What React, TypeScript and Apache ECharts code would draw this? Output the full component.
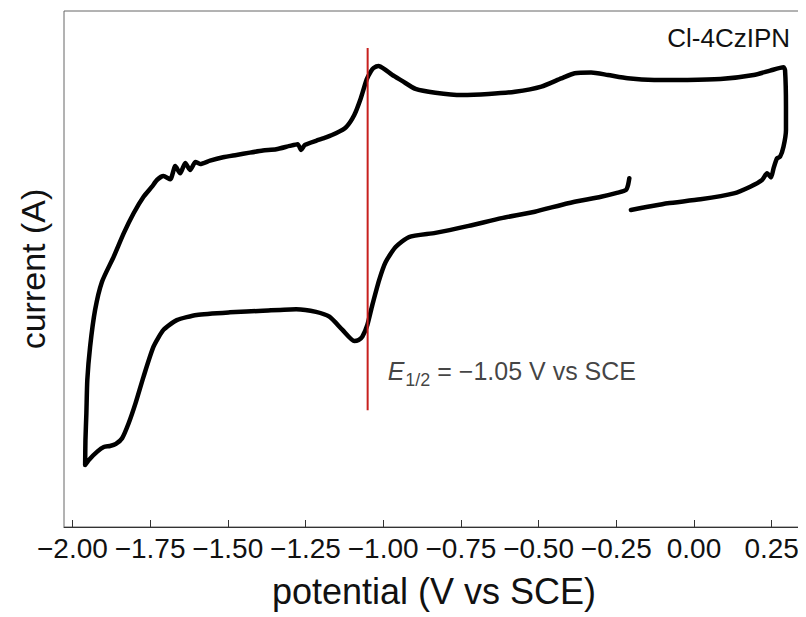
import React, { useEffect, useRef } from "react";
import * as echarts from "echarts";

// Cyclic voltammogram of Cl-4CzIPN (potential in V vs SCE, current in arbitrary units)
const potential: number[] = [
  -0.203, -0.149, -0.085, 0.021, 0.128, 0.181, 0.219, 0.235, 0.248, 0.256,
  0.267, 0.277, 0.288, 0.296, 0.296, 0.293, 0.288,
  0.245, 0.192, 0.085, -0.021, -0.128, -0.213, -0.277, -0.331, -0.384, -0.427,
  -0.491, -0.576, -0.661, -0.747, -0.832, -0.896, -0.939, -0.971, -0.996, -1.015,
  -1.031, -1.04, -1.053, -1.072, -1.093, -1.12, -1.152, -1.184, -1.216, -1.252,
  -1.264, -1.275, -1.301, -1.344, -1.387, -1.429, -1.472, -1.515, -1.557, -1.589,
  -1.604, -1.621, -1.637, -1.653, -1.669, -1.685, -1.707, -1.728, -1.744, -1.771,
  -1.803, -1.835, -1.867, -1.905, -1.927, -1.943, -1.952, -1.955, -1.958, -1.959,
  -1.947, -1.92, -1.899, -1.879, -1.86, -1.84, -1.819, -1.797, -1.771, -1.739,
  -1.707, -1.664, -1.6, -1.493, -1.387, -1.28, -1.216, -1.173, -1.131, -1.093,
  -1.079, -1.067, -1.051, -1.035, -1.013, -0.992, -0.96, -0.917, -0.832, -0.725,
  -0.619, -0.512, -0.405, -0.299, -0.245, -0.219, -0.212, -0.208,
];
const current: number[] = [
  2.29, 2.41, 2.55, 2.7, 2.93, 3.19, 3.45, 3.71, 3.55, 3.9,
  4.29, 4.35, 4.74, 5.39, 6.29, 7.71, 7.82,
  7.69, 7.52, 7.36, 7.33, 7.33, 7.39, 7.52, 7.62, 7.59, 7.39,
  7.07, 6.87, 6.78, 6.74, 6.83, 6.98, 7.29, 7.52, 7.75, 7.87,
  7.79, 7.65, 7.35, 6.62, 5.97, 5.49, 5.26, 5.1, 4.97, 4.81,
  4.61, 4.84, 4.77, 4.64, 4.59, 4.51, 4.42, 4.33, 4.2, 4.07,
  4.15, 3.84, 4.11, 3.71, 3.99, 3.48, 3.6, 3.45, 3.19, 2.8,
  2.16, 1.38, 0.48, -0.5, -1.59, -3.01, -4.3, -5.59, -6.63, -7.6,
  -7.4, -7.08, -6.9, -6.86, -6.78, -6.56, -5.98, -5.21, -4.17, -3.01,
  -2.36, -1.98, -1.78, -1.68, -1.62, -1.56, -1.66, -1.85, -2.36, -2.79,
  -2.75, -2.62, -2.17, -1.4, -0.43, 0.27, 0.85, 1.24, 1.4, 1.67,
  1.97, 2.22, 2.55, 2.8, 2.96, 3.06, 3.26, 3.52,
];

const potentialTicks: number[] = [-2, -1.75, -1.5, -1.25, -1, -0.75, -0.5, -0.25, 0, 0.25];

// Half-wave potential marker
const halfWavePotential = -1.05;
const markerSpan: number[] = [8.57, -5.47];
const labelCurrent = -4.03;

const FONT = "'Liberation Sans', Arial, sans-serif";
const INK = "#111";

export default function App() {
  const ref = useRef<HTMLDivElement>(null);

  useEffect(() => {
    if (!ref.current) return;
    const chart = echarts.init(ref.current, undefined, { renderer: "svg" });
    const cv = potential.map((p, i) => [p, current[i]]);

    chart.setOption({
      animation: false,
      backgroundColor: "#fff",
      textStyle: { fontFamily: FONT },
      title: {
        text: "Cl-4CzIPN",
        right: 11,
        top: 12,
        textStyle: { fontFamily: FONT, fontSize: 26, fontWeight: "normal", color: INK },
      },
      grid: {
        left: 52,
        right: 2,
        top: 3,
        bottom: 90,
        show: true,
        borderColor: "#666",
        borderWidth: 1,
        containLabel: false,
      },
      xAxis: {
        type: "value",
        min: -2.027,
        max: 0.354,
        name: "potential (V vs SCE)",
        nameLocation: "middle",
        nameGap: 46,
        nameTextStyle: { fontFamily: FONT, fontSize: 36, color: INK },
        axisLine: { show: true, onZero: false, lineStyle: { color: "#333", width: 1 } },
        axisTick: {
          show: true,
          inside: true,
          length: 7,
          customValues: potentialTicks,
          lineStyle: { color: "#333", width: 1 },
        },
        axisLabel: {
          customValues: potentialTicks,
          fontFamily: FONT,
          fontSize: 28,
          color: INK,
          margin: 7,
          formatter: (v: number) => (v < 0 ? "\u2212" : "") + Math.abs(v).toFixed(2),
        },
        splitLine: { show: false },
      },
      yAxis: {
        type: "value",
        min: -10,
        max: 10,
        name: "current (A)",
        nameLocation: "middle",
        nameGap: 14,
        nameTextStyle: { fontFamily: FONT, fontSize: 34, color: INK },
        axisLine: { show: false },
        axisTick: { show: false },
        axisLabel: { show: false },
        splitLine: { show: false },
      },
      series: [
        {
          type: "line",
          data: cv,
          showSymbol: false,
          symbol: "none",
          smooth: 0.2,
          lineStyle: { color: "#000", width: 4.5, join: "round", cap: "round" },
          z: 3,
        },
        {
          type: "line",
          data: markerSpan.map((c) => [halfWavePotential, c]),
          showSymbol: false,
          symbol: "none",
          lineStyle: { color: "#c8201e", width: 2 },
          z: 4,
        },
        {
          type: "scatter",
          data: [[halfWavePotential, labelCurrent]],
          symbolSize: 0,
          label: {
            show: true,
            position: "right",
            distance: 20,
            formatter: "{e|E}{sub|1/2}{t| = \u22121.05 V vs SCE}",
            rich: {
              e: { fontFamily: FONT, fontSize: 25, fontStyle: "italic", color: INK, lineHeight: 28, verticalAlign: "top" },
              sub: { fontFamily: FONT, fontSize: 18, color: INK, lineHeight: 18, padding: [12, 0, 0, 1], verticalAlign: "top" },
              t: { fontFamily: FONT, fontSize: 25, color: INK, lineHeight: 28, verticalAlign: "top" },
            },
          },
          z: 5,
        },
      ],
    });

    return () => chart.dispose();
  }, []);

  return <div ref={ref} style={{ width: 798, height: 609 }} />;
}
